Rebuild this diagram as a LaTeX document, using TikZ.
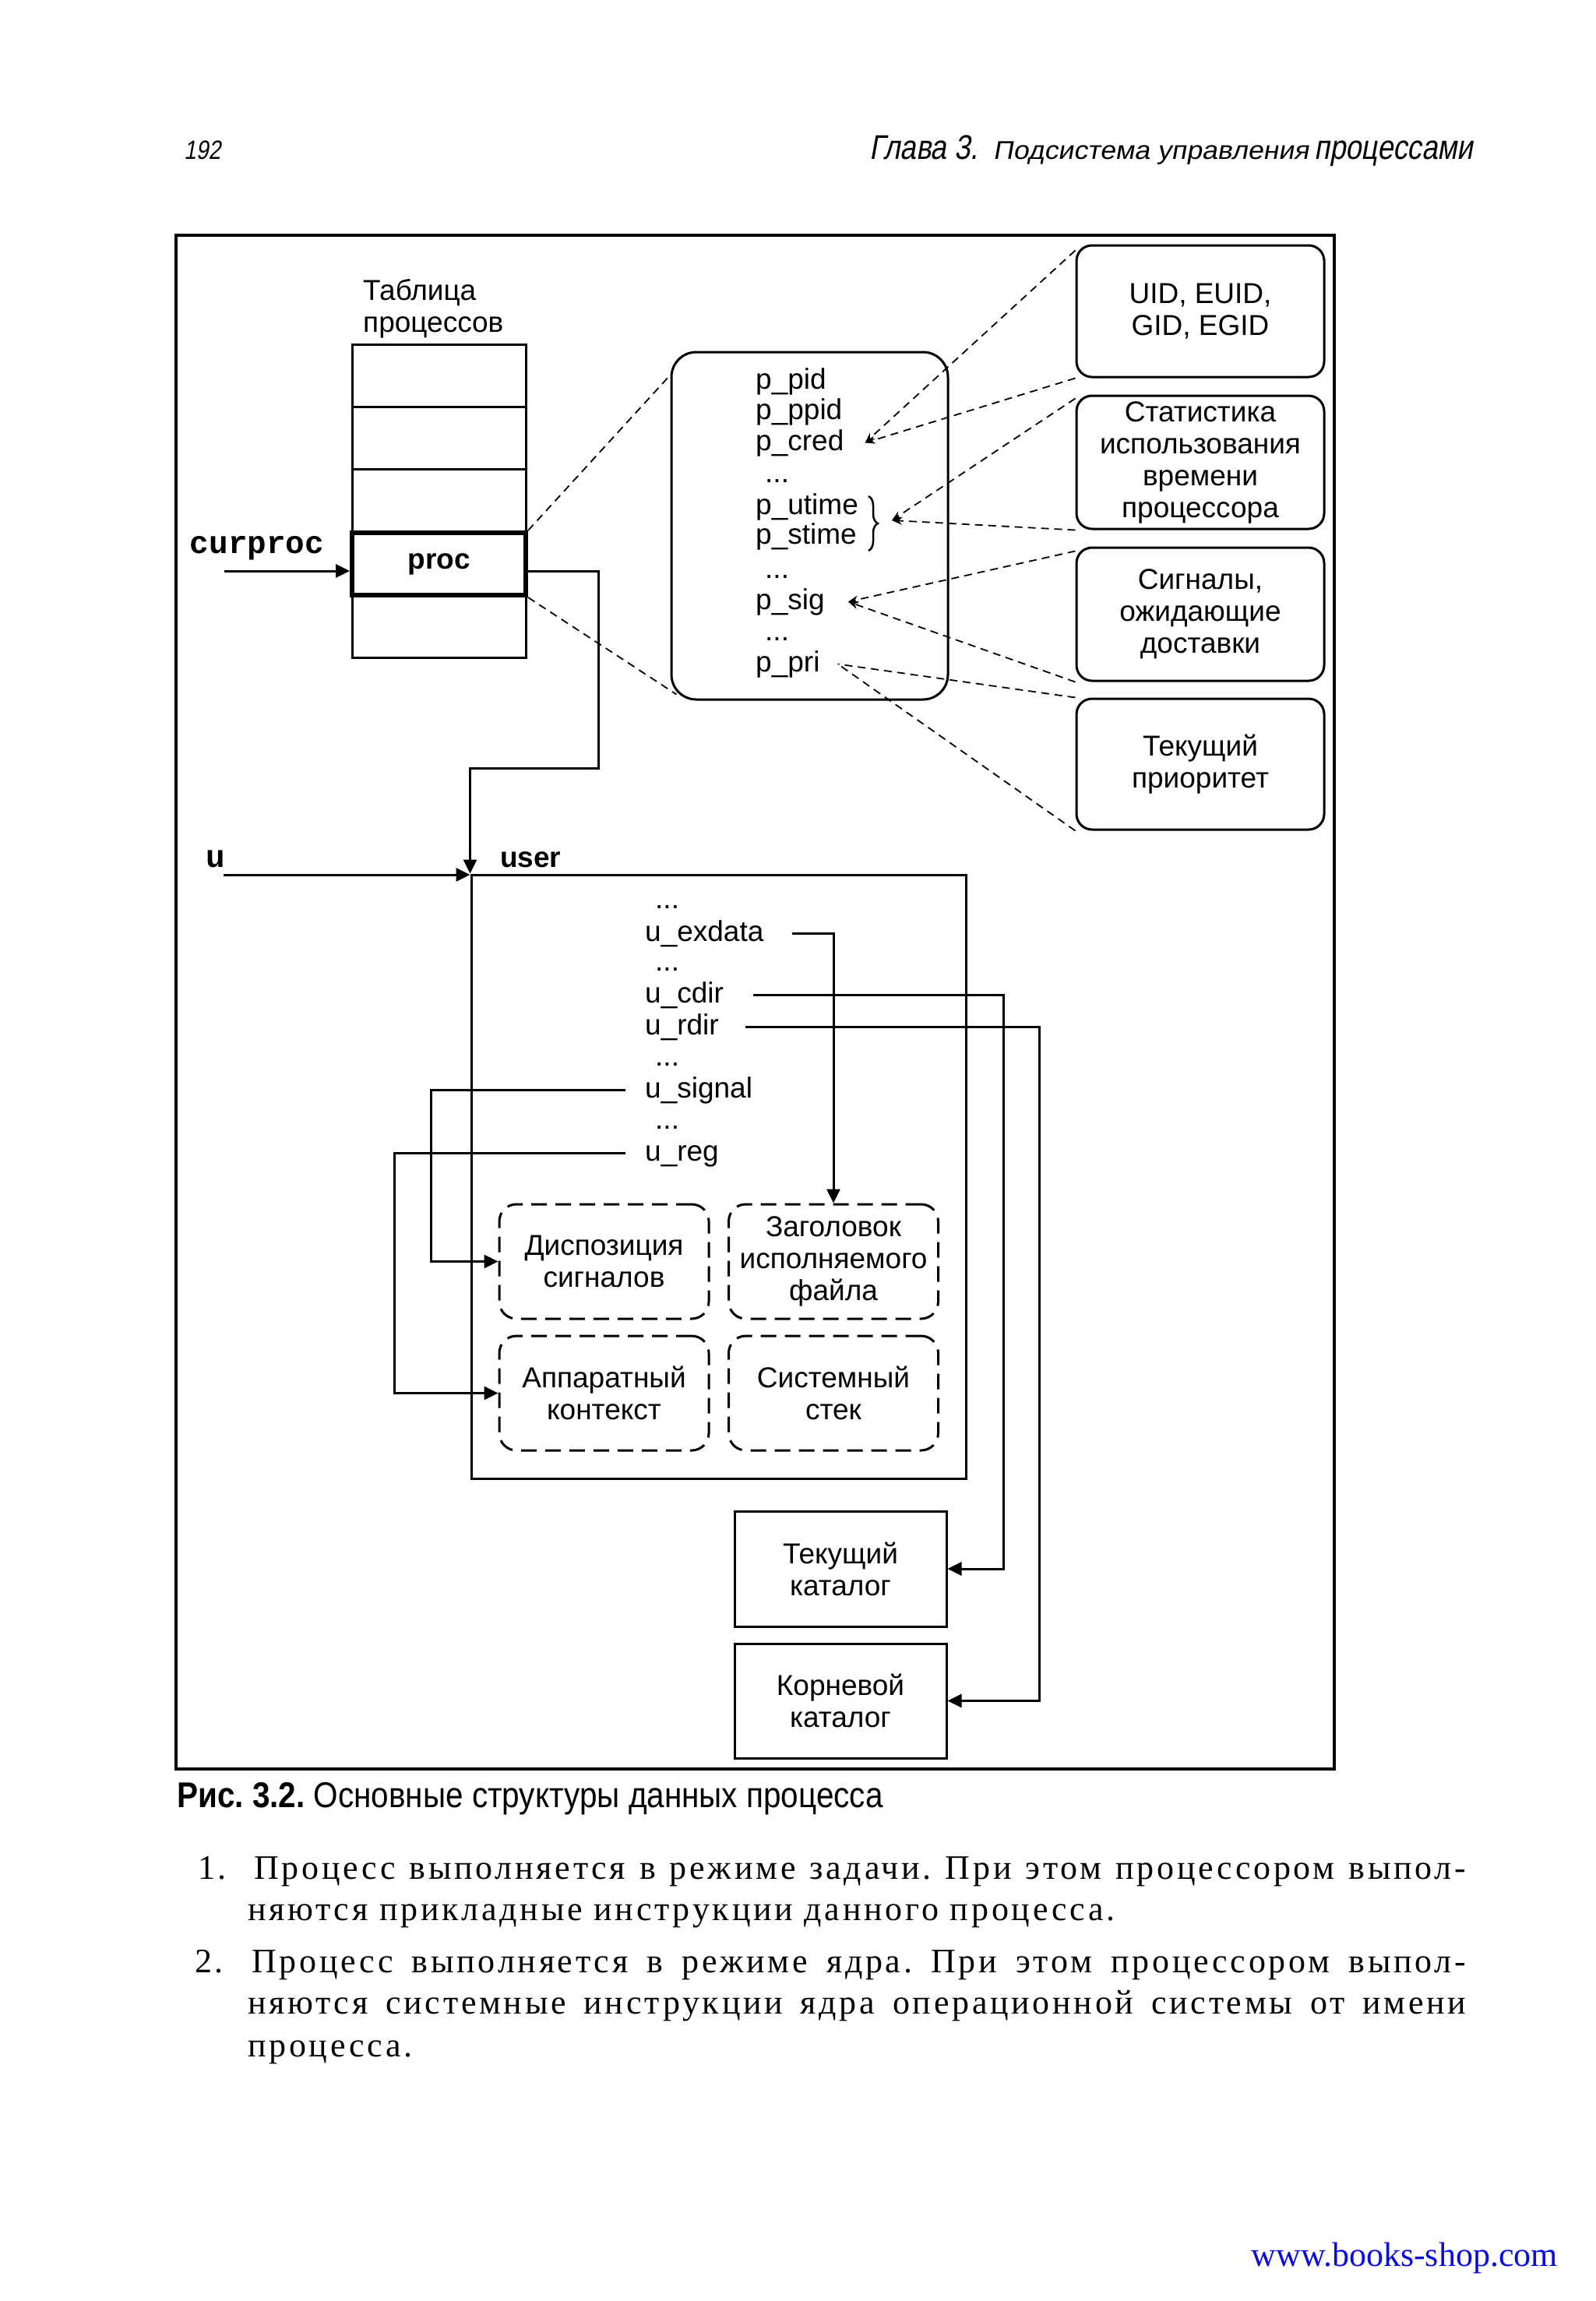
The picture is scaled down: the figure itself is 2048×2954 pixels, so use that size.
\documentclass[tikz,border=0pt]{standalone}
\usepackage{fontspec}
\setmainfont{Liberation Sans}
\newfontfamily\dg{Liberation Sans}
\newfontfamily\mono{Liberation Mono}
\newfontfamily\hdrN[FakeSlant=0.18,FakeStretch=0.83]{Liberation Sans}
\newfontfamily\hdrW[FakeSlant=0.18,FakeStretch=1.08]{Liberation Sans}
\newfontfamily\capf[FakeStretch=0.88]{Liberation Sans}
\newfontfamily\bodyf[LetterSpace=8.5]{Liberation Serif}
\newfontfamily\urlf{Liberation Serif}
\usetikzlibrary{arrows.meta,calc,decorations.pathreplacing}
\definecolor{urlblue}{RGB}{10,10,230}
\newcommand\fsz[2]{\fontsize{#1}{#2}\selectfont}
\frenchspacing
\tikzset{
  every node/.style={font=\dg\fsz{37}{41}},
  cell/.style={draw, line width=3pt, minimum width=223pt, minimum height=80pt, inner sep=0pt},
  rbox/.style={draw, line width=3pt, rounded corners=20pt, align=center, minimum width=318pt, inner sep=0pt},
  dbox/.style={draw, line width=3pt, rounded corners=22pt, dash pattern=on 20pt off 11pt, align=center, minimum width=269pt, minimum height=147pt, inner sep=0pt},
  sqbox/.style={draw, line width=3pt, align=center, minimum width=272pt, inner sep=0pt},
  fld/.style={anchor=base west, inner sep=0pt, text height=27pt, text depth=8pt},
  conn/.style={line width=3pt, -{Triangle[length=18pt,width=17pt]}},
  fan/.style={line width=1.8pt, dash pattern=on 10pt off 7pt, -{Stealth[length=13pt,width=10pt]}},
  fanline/.style={line width=1.8pt, dash pattern=on 10pt off 7pt},
  txt/.style={anchor=base west, inner sep=0pt},
  bodytxt/.style={anchor=base west, inner sep=0pt, font=\bodyf\fsz{44}{53}\frenchspacing},
}
\begin{document}
\begin{tikzpicture}[x=1pt,y=-1pt]
\useasboundingbox (0,0) rectangle (2048,2954);
\fill[white] (0,0) rectangle (2048,2954);

% header
\node[txt] (pg) at (236,205) {\hdrN\fsz{34}{34}192};
\node[anchor=base east, inner sep=0pt] (hd) at (1891,205) {{\hdrN\fsz{44}{44}Глава 3.}\hspace{19pt}{\hdrW\fsz{33}{33}Подсистема управления}\hspace{7pt}{\hdrN\fsz{44}{44}процессами}};

% frame
\node[draw, line width=3.5pt, inner sep=0pt, minimum width=1487pt, minimum height=1969pt] (frame) at (969.5,1286.5) {};

% process table
\node[anchor=west, align=left, inner sep=0pt] (tlab) at (466,396) {Таблица\\процессов};
\node[cell] (r1) at (563.5,482) {};
\node[cell] (r2) at (563.5,562) {};
\node[cell, minimum height=82pt] (r3) at (563.5,643) {};
\node[cell] (r5) at (563.5,804) {};
\node[cell, line width=6pt] (procrow) at (563.5,724) {\bfseries proc};

\node[anchor=base, inner sep=0pt, font=\mono\bfseries\fsz{41}{41}] (curproc) at (330,710) {curproc};
\coordinate (cpin) at (288,733);
\draw[conn] (cpin) -- (cpin -| procrow.west);

% proc structure
\node[draw, line width=3pt, rounded corners=32pt, minimum width=355pt, minimum height=446pt, inner sep=0pt] (pstruct) at (1039.5,675) {};
\node[fld] (ppid) at (970,499) {p\_pid};
\node[fld] (pppid) at (970,538) {p\_ppid};
\node[fld] (pcred) at (970,578) {p\_cred};
\node[fld] (pd1) at (982,619) {...};
\node[fld] (putime) at (970,660) {p\_utime};
\node[fld] (pstime) at (970,698) {p\_stime};
\node[fld] (pd2) at (982,742) {...};
\node[fld] (psig) at (970,782) {p\_sig};
\node[fld] (pd3) at (982,822) {...};
\node[fld] (ppri) at (970,862) {p\_pri};
\draw[line width=2.5pt, decorate, decoration={brace, amplitude=12pt}] (1115,637) -- (1115,707);
\coordinate (brtip) at (1145,668);

\draw[fanline] (procrow.north east) -- ($(pstruct.north west)+(0,31)$);
\draw[fanline] (procrow.south east) -- ($(pstruct.south west)+(8,-8)$);

% right boxes
\node[rbox, minimum height=169pt] (b1) at (1541,399.5) {UID, EUID,\\GID, EGID};
\node[rbox, minimum height=171pt] (b2) at (1541,593.5) {Статистика\\использования\\времени\\процессора};
\node[rbox, minimum height=171pt] (b3) at (1541,788.5) {Сигналы,\\ожидающие\\доставки};
\node[rbox, minimum height=168pt] (b4) at (1541,981) {Текущий\\приоритет};

\coordinate (credtip) at ([xshift=27pt]pcred.east);
\draw[fan] ($(b1.north west)+(0,8)$) -- (credtip);
\draw[fan] (b1.south west) -- (credtip);
\draw[fan] ($(b2.north west)+(0,5)$) -- (brtip);
\draw[fan] (b2.south west) -- (brtip);
\coordinate (sigtip) at ([xshift=30pt]psig.east);
\draw[fan] ($(b3.north west)+(0,6)$) -- (sigtip);
\draw[fan] (b3.south west) -- (sigtip);
\coordinate (pritip) at ([xshift=23pt]ppri.east);
\draw[fanline] (b4.north west) -- (pritip);
\draw[fanline] (b4.south west) -- (pritip);

% user area
\node[draw, line width=3pt, inner sep=0pt, minimum width=635pt, minimum height=775pt] (userbox) at (922.5,1510.5) {};
\node[txt, font=\dg\bfseries\fsz{37}{41}] (userlab) at (642,1113) {user};
\node[anchor=base, inner sep=0pt, font=\mono\bfseries\fsz{41}{41}] (ulab) at (277,1113) {u};
\coordinate (uin) at (287,1123);
\draw[conn] (uin) -- (uin -| userbox.west);

\coordinate (pr1) at (768,733);
\coordinate (pr2) at (768,986);
\draw[conn] (cpin -| procrow.east) -- (pr1) -- (pr2) -| (userbox.north west);

\node[fld] (ud1) at (841,1166) {...};
\node[fld] (uexdata) at (828,1208) {u\_exdata};
\node[fld] (ud2) at (841,1246) {...};
\node[fld] (ucdir) at (828,1287) {u\_cdir};
\node[fld] (urdir) at (828,1328) {u\_rdir};
\node[fld] (ud3) at (841,1368) {...};
\node[fld] (usignal) at (828,1409) {u\_signal};
\node[fld] (ud4) at (841,1449) {...};
\node[fld] (ureg) at (828,1490) {u\_reg};

\node[dbox] (boxA) at (775.5,1619.5) {Диспозиция\\сигналов};
\node[dbox] (boxB) at (1070,1619.5) {Заголовок\\исполняемого\\файла};
\node[dbox] (boxC) at (775.5,1788.5) {Аппаратный\\контекст};
\node[dbox] (boxD) at (1070,1788.5) {Системный\\стек};

\node[sqbox, minimum height=148pt] (tekcat) at (1079,2014) {Текущий\\каталог};
\node[sqbox, minimum height=147pt] (korcat) at (1079,2183.5) {Корневой\\каталог};

\draw[conn] ([xshift=36pt]uexdata.east) -| (boxB.north);
\draw[conn] ([xshift=38pt]ucdir.east) -| ($(tekcat.east)+(72,0)$) -- (tekcat.east);
\draw[conn] ([xshift=34pt]urdir.east) -| ($(korcat.east)+(118,0)$) -- (korcat.east);
\draw[conn] ([xshift=-25pt]usignal.west) -| ($(boxA.west)+(-86,0)$) -- (boxA.west);
\draw[conn] ([xshift=-25pt]ureg.west) -| ($(boxC.west)+(-133,0)$) -- (boxC.west);

% caption
\node[txt] (cap) at (227,2320) {\capf\fsz{46}{46}{\bfseries Рис. 3.2.} Основные структуры данных процесса};

% body text
\node[bodytxt] (n1) at (254,2412) {1.};
\node[bodytxt] (l1) at (326,2412) {\makebox[1556pt][s]{Процесс выполняется в режиме задачи. При этом процессором выпол-}};
\node[bodytxt] (l2) at (318,2465) {няются прикладные инструкции данного процесса.};
\node[bodytxt] (n2) at (250,2532) {2.};
\node[bodytxt] (l3) at (323,2532) {\makebox[1559pt][s]{Процесс выполняется в режиме ядра. При этом процессором выпол-}};
\node[bodytxt] (l4) at (318,2585) {\makebox[1564pt][s]{няются системные инструкции ядра операционной системы от имени}};
\node[bodytxt] (l5) at (318,2640) {процесса.};

% url
\node[anchor=base east, inner sep=0pt, text=urlblue] (url) at (2000,2909) {\urlf\fsz{44}{44}www.books-shop.com};
\end{tikzpicture}
\end{document}
